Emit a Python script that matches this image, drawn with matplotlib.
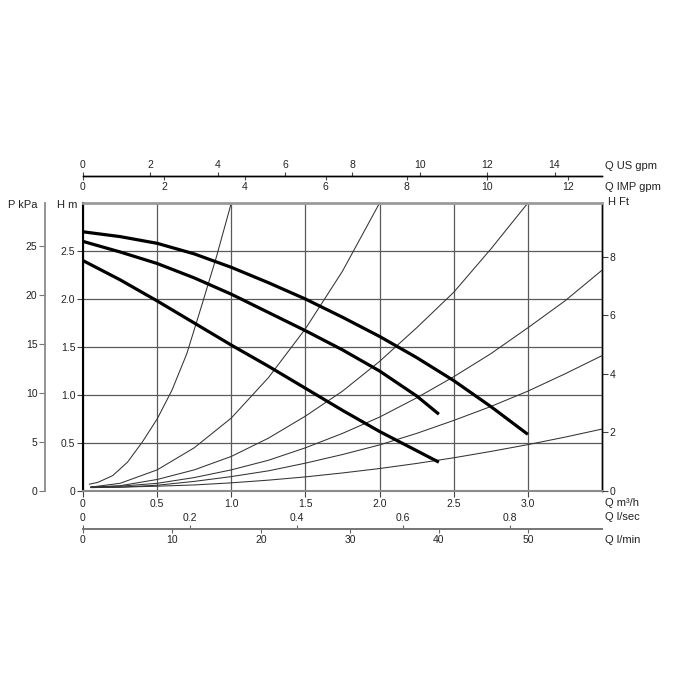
import matplotlib
matplotlib.use('Agg')
import matplotlib.pyplot as plt

plt.rcParams['font.family'] = ['Liberation Sans', 'DejaVu Sans']

# ---------------- data (Q in m3/h, H in m) ----------------
pump_q1 = [0, 0.25, 0.5, 0.75, 1.0, 1.25, 1.5, 1.75, 2.0, 2.25, 2.5, 2.75, 3.0]
pump_h1 = [2.70, 2.65, 2.58, 2.47, 2.33, 2.17, 2.00, 1.81, 1.61, 1.39, 1.15, 0.88, 0.59]
pump_q2 = [0, 0.25, 0.5, 0.75, 1.0, 1.25, 1.5, 1.75, 2.0, 2.25, 2.4]
pump_h2 = [2.60, 2.49, 2.37, 2.22, 2.05, 1.86, 1.67, 1.47, 1.25, 0.99, 0.80]
pump_q3 = [0, 0.25, 0.5, 0.75, 1.0, 1.25, 1.5, 1.75, 2.0, 2.25, 2.4]
pump_h3 = [2.40, 2.20, 1.98, 1.75, 1.52, 1.30, 1.07, 0.84, 0.62, 0.42, 0.30]

sys_qa = [0.04, 0.1, 0.2, 0.3, 0.4, 0.5, 0.6, 0.7, 0.8, 0.9, 1.0]
sys_ha = [0.07, 0.09, 0.16, 0.30, 0.51, 0.75, 1.05, 1.43, 1.93, 2.44, 3.0]
sys_qb = [0.05, 0.25, 0.5, 0.75, 1.0, 1.25, 1.5, 1.75, 2.0]
sys_hb = [0.04, 0.08, 0.22, 0.45, 0.76, 1.18, 1.69, 2.29, 3.0]
sys_qc = [0.05, 0.25, 0.5, 0.75, 1.0, 1.25, 1.5, 1.75, 2.0, 2.25, 2.5, 2.75, 3.0]
sys_hc = [0.04, 0.055, 0.12, 0.22, 0.36, 0.55, 0.78, 1.04, 1.35, 1.70, 2.07, 2.52, 3.0]
sys_qd = [0.05, 0.25, 0.5, 0.75, 1.0, 1.25, 1.5, 1.75, 2.0, 2.25, 2.5, 2.75, 3.0, 3.25, 3.5]
sys_hd = [0.04, 0.05, 0.08, 0.14, 0.22, 0.32, 0.45, 0.60, 0.77, 0.97, 1.19, 1.43, 1.70, 1.98, 2.30]
sys_qe = [0.05, 0.25, 0.5, 0.75, 1.0, 1.25, 1.5, 1.75, 2.0, 2.25, 2.5, 2.75, 3.0, 3.25, 3.5]
sys_he = [0.04, 0.04, 0.06, 0.10, 0.15, 0.21, 0.29, 0.38, 0.48, 0.60, 0.735, 0.88, 1.04, 1.22, 1.41]
sys_qf = [0.05, 0.25, 0.5, 0.75, 1.0, 1.25, 1.5, 1.75, 2.0, 2.25, 2.5, 2.75, 3.0, 3.25, 3.5]
sys_hf = [0.035, 0.04, 0.05, 0.063, 0.085, 0.113, 0.147, 0.188, 0.234, 0.287, 0.346, 0.412, 0.483, 0.561, 0.645]

q_ticks = [0, 0.5, 1.0, 1.5, 2.0, 2.5, 3.0]
q_labels = ['0', '0.5', '1.0', '1.5', '2.0', '2.5', '3.0']
h_ticks = [0, 0.5, 1.0, 1.5, 2.0, 2.5]
h_labels = ['0', '0.5', '1.0', '1.5', '2.0', '2.5']
kpa_ticks = [0, 5, 10, 15, 20, 25]
ft_ticks = [0, 2, 4, 6, 8]
usgpm_ticks = [0, 2, 4, 6, 8, 10, 12, 14]
impgpm_ticks = [0, 2, 4, 6, 8, 10, 12]
lsec_ticks = [0, 0.2, 0.4, 0.6, 0.8]
lsec_labels = ['0', '0.2', '0.4', '0.6', '0.8']
lmin_ticks = [0, 10, 20, 30, 40, 50]

FS = 7.5
W = H = 700
L, R, B, T = 83, 602, 491, 203

fig = plt.figure(figsize=(7, 7), dpi=100)
ax = fig.add_axes([L / W, 1 - B / H, (R - L) / W, (B - T) / H])
ax.set_xlim(0, 3.5)
ax.set_ylim(0, 3.0)

ax.set_xticks(q_ticks, q_labels)
ax.set_yticks(h_ticks, h_labels)
ax.grid(True, color='#5a5a5a', lw=0.9)
ax.set_axisbelow(True)
ax.tick_params(axis='both', direction='out', length=4, width=0.8, colors='#444444',
               labelcolor='#222222', labelsize=FS, pad=1.5)

ax.spines['left'].set_color('black'); ax.spines['left'].set_linewidth(1.5)
ax.spines['right'].set_color('black'); ax.spines['right'].set_linewidth(1.0)
ax.spines['top'].set_color('#9a9a9a'); ax.spines['top'].set_linewidth(2.0)
ax.spines['bottom'].set_color('#8a8a8a'); ax.spines['bottom'].set_linewidth(1.5)

thin = dict(color='#333333', lw=0.75, solid_capstyle='butt', solid_joinstyle='round')
for qs, hs in [(sys_qa, sys_ha), (sys_qb, sys_hb), (sys_qc, sys_hc),
               (sys_qd, sys_hd), (sys_qe, sys_he), (sys_qf, sys_hf)]:
    ax.plot(qs, hs, **thin)

thick = dict(color='black', lw=2.3, solid_capstyle='butt', solid_joinstyle='round')
for qs, hs in [(pump_q1, pump_h1), (pump_q2, pump_h2), (pump_q3, pump_h3)]:
    ax.plot(qs, hs, **thick)

# P kPa axis (left, offset)
kpa = ax.secondary_yaxis(-38 / (R - L), functions=(lambda h: h * 9.80665, lambda p: p / 9.80665))
kpa.set_yticks(kpa_ticks)
kpa.yaxis.set_ticks_position('left')
kpa.tick_params(direction='out', length=4, width=0.8, colors='#777777', labelcolor='#222222',
                labelsize=FS, pad=1.5)
for s in kpa.spines.values():
    s.set_color('#8a8a8a'); s.set_linewidth(1.3)

# H Ft axis (right)
ft = ax.secondary_yaxis('right', functions=(lambda h: h / 0.3048, lambda f: f * 0.3048))
ft.set_yticks(ft_ticks)
ft.tick_params(direction='out', length=4, width=0.8, colors='#444444', labelcolor='#222222',
               labelsize=FS, pad=1.5)
for s in ft.spines.values():
    s.set_color('black'); s.set_linewidth(1.0)

# top flow axes
top_loc = (B - 176) / (B - T)
us = ax.secondary_xaxis(top_loc, functions=(lambda q: q * 4.40287, lambda g: g / 4.40287))
us.set_xticks(usgpm_ticks)
us.xaxis.set_ticks_position('top')
us.tick_params(axis='x', direction='out', top=True, bottom=False, labeltop=True, labelbottom=False,
               length=3, width=0.8, colors='#444444', labelcolor='#222222', labelsize=FS, pad=1.5)
imp = ax.secondary_xaxis(top_loc, functions=(lambda q: q * 3.66615, lambda g: g / 3.66615))
imp.set_xticks(impgpm_ticks)
imp.xaxis.set_ticks_position('bottom')
imp.tick_params(axis='x', direction='out', top=False, bottom=True, labeltop=False, labelbottom=True,
                length=3, width=0.8, colors='#444444', labelcolor='#222222', labelsize=FS, pad=1.5)
for a in (us, imp):
    for s in a.spines.values():
        s.set_color('black'); s.set_linewidth(1.0)

# bottom flow axes
bot_loc = -(529 - B) / (B - T)
ls = ax.secondary_xaxis(bot_loc, functions=(lambda q: q / 3.6, lambda s: s * 3.6))
ls.set_xticks(lsec_ticks, lsec_labels)
ls.xaxis.set_ticks_position('top')
ls.tick_params(axis='x', direction='out', top=True, bottom=False, labeltop=True, labelbottom=False,
               length=3, width=0.8, colors='#666666', labelcolor='#222222', labelsize=FS, pad=1.0)
lm = ax.secondary_xaxis(bot_loc, functions=(lambda q: q * 1000 / 60, lambda m: m * 0.06))
lm.set_xticks(lmin_ticks)
lm.xaxis.set_ticks_position('bottom')
lm.tick_params(axis='x', direction='out', top=False, bottom=True, labeltop=False, labelbottom=True,
               length=3, width=0.8, colors='#666666', labelcolor='#222222', labelsize=FS, pad=1.0)
for a in (ls, lm):
    for s in a.spines.values():
        s.set_color('#777777'); s.set_linewidth(1.3)

def ftext(x, y, s, ha='left'):
    fig.text(x / W, 1 - y / H, s, ha=ha, va='center', fontsize=FS + 0.5, color='#222222')

ftext(8, 205, 'P kPa')
ftext(57, 205, 'H m')
ftext(608, 202, 'H Ft')
ftext(605, 166, 'Q US gpm')
ftext(605, 187, 'Q IMP gpm')
ftext(605, 503, 'Q m³/h')
ftext(605, 517, 'Q l/sec')
ftext(605, 540, 'Q l/min')

fig.savefig('out.png', dpi=100)
